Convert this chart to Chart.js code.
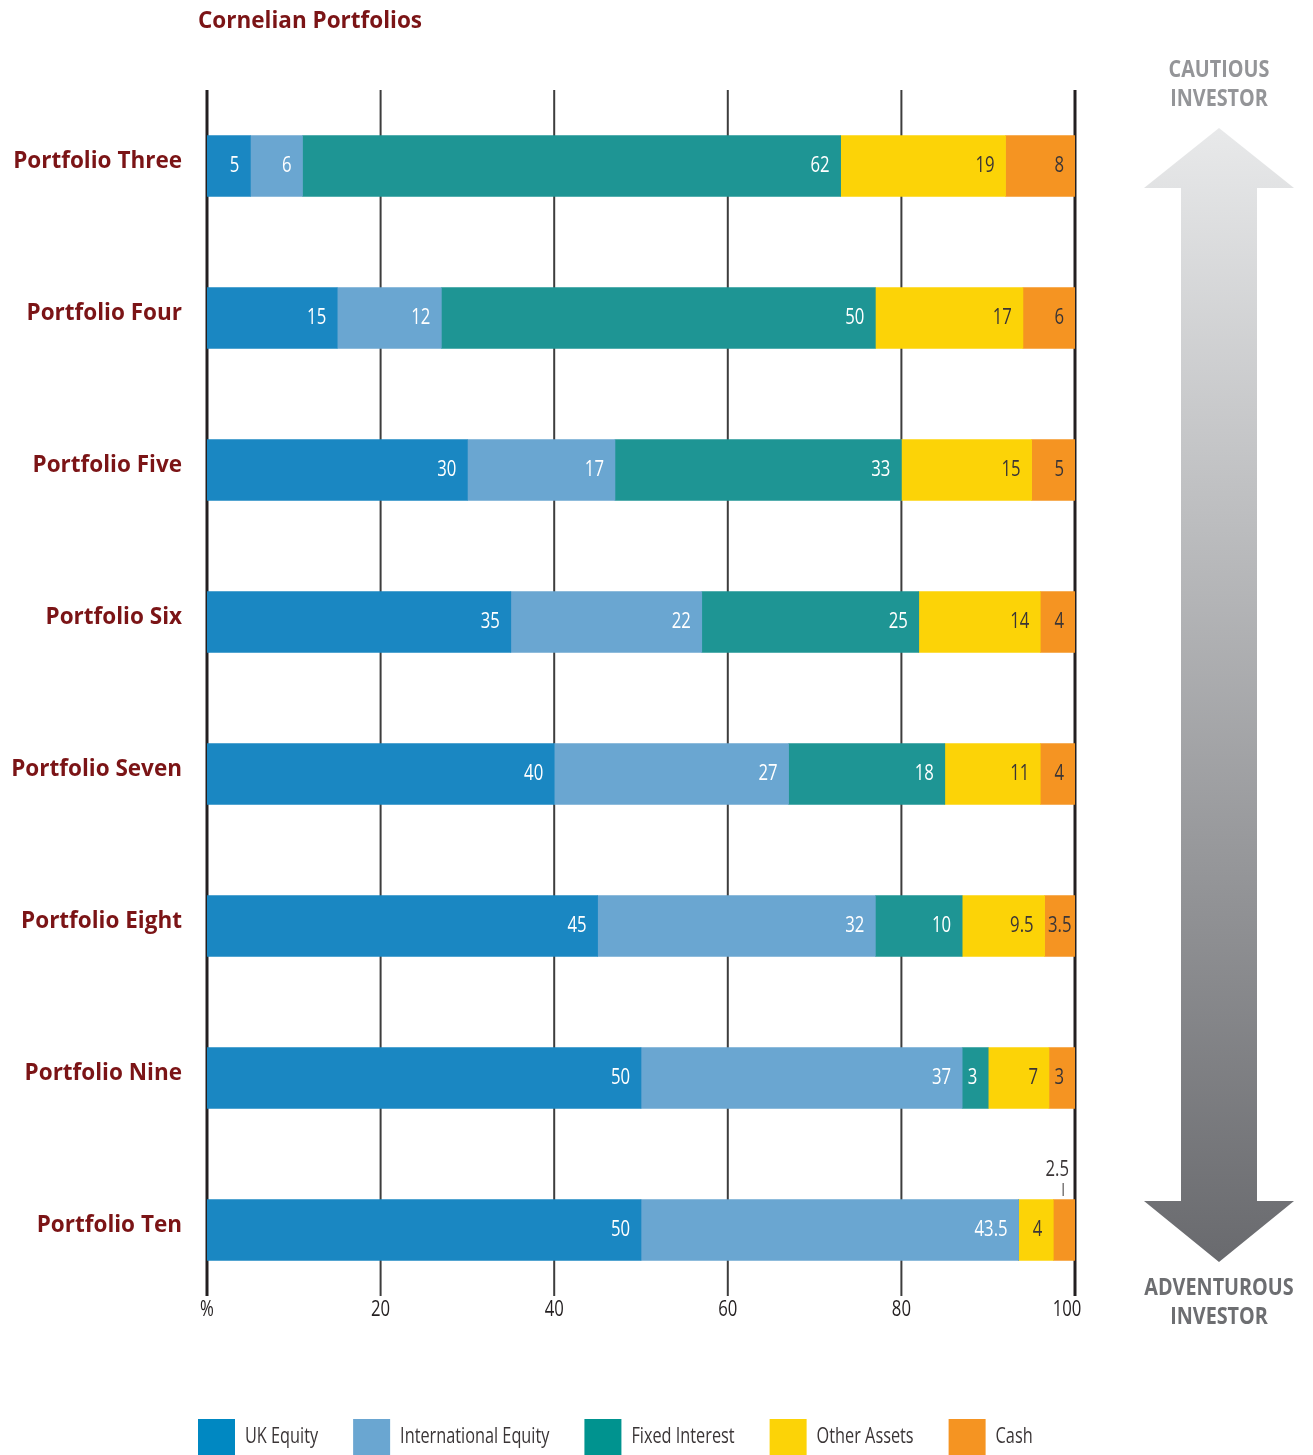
<!DOCTYPE html>
<html>
<head>
<meta charset="utf-8">
<title>Cornelian Portfolios</title>
<script src="https://cdn.jsdelivr.net/npm/chart.js@4.4.1/dist/chart.umd.min.js"></script>
<style>
body { margin: 0; background: #fff; }
</style>
</head>
<body>
<canvas id="myChart" width="1313" height="1455"></canvas>
<script>
// data
var portfolios = ['Portfolio Three', 'Portfolio Four', 'Portfolio Five', 'Portfolio Six',
                  'Portfolio Seven', 'Portfolio Eight', 'Portfolio Nine', 'Portfolio Ten'];
var ukEquity      = [5, 15, 30, 35, 40, 45, 50, 50];
var intlEquity    = [6, 12, 17, 22, 27, 32, 37, 43.5];
var fixedInterest = [62, 50, 33, 25, 18, 10, 3, 0];
var otherAssets   = [19, 17, 15, 14, 11, 9.5, 7, 4];
var cash          = [8, 6, 5, 4, 4, 3.5, 3, 2.5];
var xTicks = [0, 20, 40, 60, 80, 100];

var seriesNames  = ['UK Equity', 'International Equity', 'Fixed Interest', 'Other Assets', 'Cash'];
var seriesData   = [ukEquity, intlEquity, fixedInterest, otherAssets, cash];
var barColors    = ['#1a87c2', '#6aa6d1', '#1e9594', '#fcd307', '#f59422'];
var legendColors = ['#0088c2', '#6aa6d1', '#00938f', '#fcd307', '#f59422'];

var sans = "'Open Sans', 'Noto Sans', sans-serif";
var red = '#7b1416';
var dark = '#3a3536';
var SQUEEZE = 0.76; // fake a condensed face

var datasets = seriesNames.map(function (name, i) {
	return {
		label: name,
		data: seriesData[i],
		backgroundColor: barColors[i],
		borderWidth: 0,
		barThickness: 61
	};
});

function squeezed(ctx, txt, x, y, align, sx) {
	ctx.save();
	ctx.translate(x, y);
	ctx.scale(sx, 1);
	ctx.textAlign = align;
	ctx.fillText(txt, 0, 0);
	ctx.restore();
}

// vertical grid lines + x tick labels
var gridLines = {
	id: 'gridLines',
	beforeDatasetsDraw: function (chart) {
		var ctx = chart.ctx, a = chart.chartArea, x = chart.scales.x;
		ctx.save();
		ctx.font = '22px ' + sans;
		ctx.textBaseline = 'middle';
		ctx.fillStyle = '#231f20';
		xTicks.forEach(function (v) {
			var px = x.getPixelForValue(v);
			var edge = (v === 0 || v === 100);
			ctx.strokeStyle = edge ? '#231f20' : '#3d3d3d';
			ctx.lineWidth = edge ? 3 : 2;
			ctx.beginPath();
			ctx.moveTo(px, a.top);
			ctx.lineTo(px, a.bottom - 10);
			ctx.stroke();
			squeezed(ctx, v === 0 ? '%' : String(v), v === 100 ? px - 8 : px, a.bottom + 4, 'center', SQUEEZE);
		});
		ctx.restore();
	}
};

// value labels inside the segments
var barLabels = {
	id: 'barLabels',
	afterDatasetsDraw: function (chart) {
		var ctx = chart.ctx;
		ctx.save();
		ctx.font = '22px ' + sans;
		ctx.textBaseline = 'middle';
		chart.data.datasets.forEach(function (ds, di) {
			chart.getDatasetMeta(di).data.forEach(function (bar, i) {
				var v = ds.data[i];
				if (!v) return;
				var txt = String(v);
				var w = ctx.measureText(txt).width * SQUEEZE;
				var segW = bar.x - bar.base;
				ctx.fillStyle = di >= 3 ? dark : '#ffffff';
				if (w + 3 > segW) {
					// too narrow: put it above with a little leader
					var cx = (bar.x + bar.base) / 2;
					ctx.fillStyle = dark;
					squeezed(ctx, txt, bar.x - 6, bar.y - 60, 'right', SQUEEZE);
					ctx.strokeStyle = dark;
					ctx.lineWidth = 1;
					ctx.beginPath();
					ctx.moveTo(cx - 1, bar.y - 47);
					ctx.lineTo(cx - 1, bar.y - 34);
					ctx.stroke();
				} else if (w + 16 > segW) {
					squeezed(ctx, txt, (bar.x + bar.base) / 2, bar.y, 'center', SQUEEZE);
				} else {
					squeezed(ctx, txt, bar.x - 11, bar.y, 'right', SQUEEZE);
				}
			});
		});
		ctx.restore();
	}
};

// title, cautious / adventurous arrow, legend
var extras = {
	id: 'extras',
	afterDraw: function (chart) {
		var ctx = chart.ctx;
		ctx.save();
		ctx.fillStyle = red;
		ctx.font = 'bold 22.5px ' + sans;
		ctx.textAlign = 'left';
		ctx.textBaseline = 'middle';
		ctx.fillText('Cornelian Portfolios', 198, 22);

		var cx = 1219;
		var g = ctx.createLinearGradient(0, 128, 0, 1262);
		g.addColorStop(0, '#e8e9ea');
		g.addColorStop(1, '#696a6e');
		ctx.fillStyle = g;
		ctx.beginPath();
		ctx.moveTo(cx, 128);
		ctx.lineTo(1294, 188);
		ctx.lineTo(1257, 188);
		ctx.lineTo(1257, 1201);
		ctx.lineTo(1294, 1201);
		ctx.lineTo(cx, 1262);
		ctx.lineTo(1144, 1201);
		ctx.lineTo(1181, 1201);
		ctx.lineTo(1181, 188);
		ctx.lineTo(1144, 188);
		ctx.closePath();
		ctx.fill();

		ctx.font = 'bold 23px ' + sans;
		ctx.fillStyle = '#949598';
		squeezed(ctx, 'CAUTIOUS', cx, 70, 'center', 0.86);
		squeezed(ctx, 'INVESTOR', cx, 99, 'center', 0.86);
		ctx.fillStyle = '#6d6e71';
		squeezed(ctx, 'ADVENTUROUS', cx, 1288, 'center', 0.86);
		squeezed(ctx, 'INVESTOR', cx, 1317, 'center', 0.86);

		// legend
		var lx = 198;
		ctx.font = '22px ' + sans;
		chart.data.datasets.forEach(function (ds, i) {
			ctx.fillStyle = legendColors[i];
			ctx.fillRect(lx, 1419, 37, 37);
			ctx.fillStyle = dark;
			squeezed(ctx, ds.label, lx + 47, 1437, 'left', 0.74);
			lx += 47 + ctx.measureText(ds.label).width * 0.74 + 35;
		});
		ctx.restore();
	}
};

var ctx = document.getElementById('myChart').getContext('2d');
var chart = new Chart(ctx, {
	type: 'bar',
	data: { labels: portfolios, datasets: datasets },
	plugins: [gridLines, barLabels, extras],
	options: {
		indexAxis: 'y',
		responsive: false,
		animation: false,
		layout: { padding: { top: 90, right: 238, bottom: 119, left: 0 } },
		plugins: {
			legend: { display: false },
			tooltip: { enabled: false }
		},
		scales: {
			x: {
				stacked: true,
				min: 0,
				max: 100,
				afterFit: function (s) { s.height = 30; },
				grid: { display: false },
				border: { display: false },
				ticks: { display: false }
			},
			y: {
				stacked: true,
				afterFit: function (s) { s.width = 207; },
				grid: { display: false, drawTicks: false },
				border: { display: false },
				ticks: {
					padding: 25,
					labelOffset: -4,
					color: red,
					font: { family: sans, size: 22.5, weight: 'bold' }
				}
			}
		}
	}
});
</script>
</body>
</html>
